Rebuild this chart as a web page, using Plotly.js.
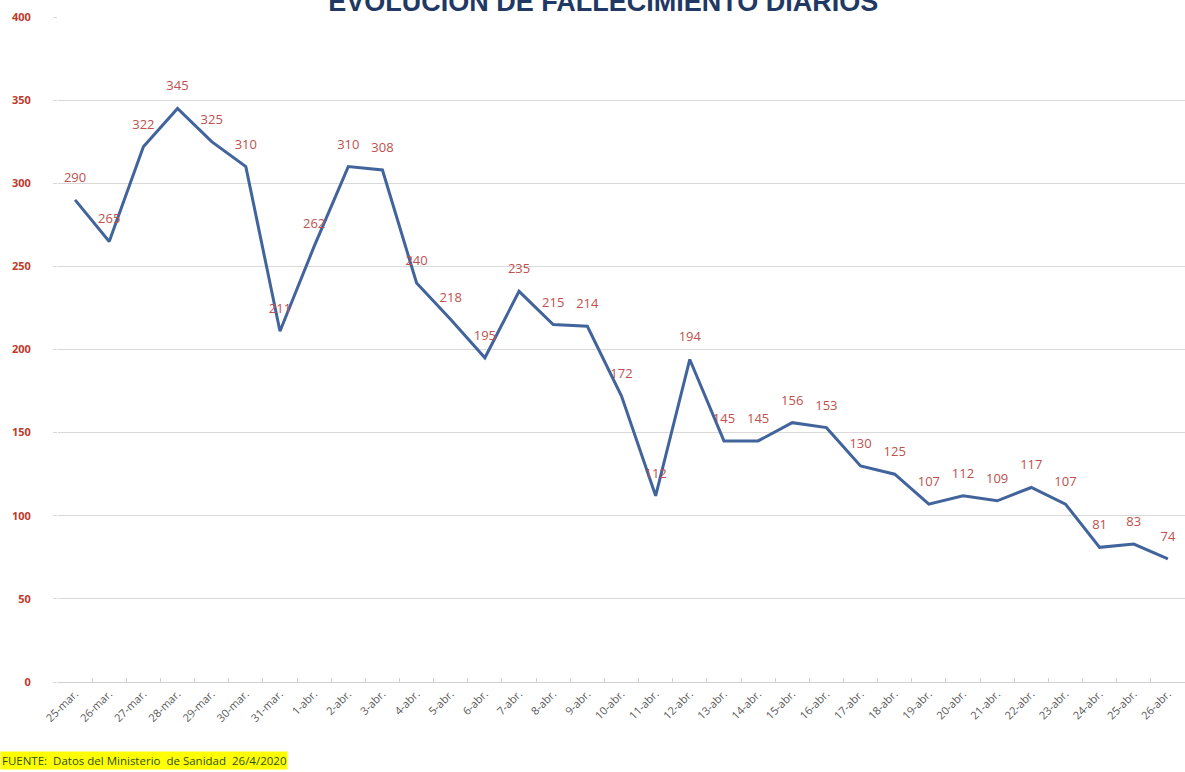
<!DOCTYPE html>
<html>
<head>
<meta charset="utf-8">
<script src="https://cdn.plot.ly/plotly-3.0.1.min.js"></script>
<style>
html,body{margin:0;padding:0;background:#fff;}
#chart{width:1185px;height:772px;}
</style>
</head>
<body>
<div id="chart"></div>
<script>
const fechas = ["25-mar.","26-mar.","27-mar.","28-mar.","29-mar.","30-mar.","31-mar.",
  "1-abr.","2-abr.","3-abr.","4-abr.","5-abr.","6-abr.","7-abr.","8-abr.","9-abr.",
  "10-abr.","11-abr.","12-abr.","13-abr.","14-abr.","15-abr.","16-abr.","17-abr.",
  "18-abr.","19-abr.","20-abr.","21-abr.","22-abr.","23-abr.","24-abr.","25-abr.","26-abr."];
const fallecidos = [290,265,322,345,325,310,211,262,310,308,240,218,195,235,215,214,
  172,112,194,145,145,156,153,130,125,107,112,109,117,107,81,83,74];
const titulo = "EVOLUCIÓN DE FALLECIMIENTO DIARIOS";
const fuente = "FUENTE:  Datos del Ministerio  de Sanidad  26/4/2020";
const yTicks = [0,50,100,150,200,250,300,350,400];

const trace = {
  x: fechas,
  y: fallecidos,
  type: 'scatter',
  mode: 'lines+markers+text',
  line: {color: '#41649C', width: 3},
  marker: {size: 22, color: 'rgba(0,0,0,0)'},
  text: fallecidos.map(String),
  textposition: 'top center',
  textfont: {family: 'Open Sans, sans-serif', size: 13, color: '#C0504D'},
  hoverinfo: 'x+y',
  cliponaxis: false
};

const layout = {
  width: 1185, height: 772,
  margin: {l: 58, r: 0, t: 17, b: 90},
  paper_bgcolor: '#ffffff', plot_bgcolor: '#ffffff',
  showlegend: false,
  title: {
    text: titulo,
    x: 0.509, xanchor: 'center', y: 0.998, yanchor: 'middle',
    font: {family: 'Liberation Sans, Arial, sans-serif', size: 27, color: '#1F3864', weight: 'bold'}
  },
  xaxis: {
    type: 'category',
    range: [-0.5, fechas.length - 0.5],
    tickangle: -45,
    tickfont: {family: 'Open Sans, sans-serif', size: 11, color: '#595959'},
    showgrid: false,
    showline: true, linecolor: '#D0D0D0', linewidth: 1,
    ticks: 'inside', ticklen: 4, tickcolor: '#D0D0D0',
    tickson: 'boundaries',
    zeroline: false, fixedrange: true
  },
  yaxis: {
    range: [0, 400],
    tickvals: yTicks,
    ticktext: yTicks.map(String),
    tickfont: {family: 'Open Sans, sans-serif', size: 11, color: '#C0392B', weight: 'bold'},
    showgrid: true, gridcolor: '#D9D9D9', gridwidth: 1,
    showline: false, zeroline: false,
    ticks: 'outside', ticklen: 4, tickcolor: '#D9D9D9',
    ticklabelstandoff: 20,
    fixedrange: true
  },
  annotations: [{
    text: fuente,
    xref: 'paper', yref: 'paper',
    x: -58/1127, xanchor: 'left',
    y: -78/665, yanchor: 'middle',
    showarrow: false,
    bgcolor: '#FFFF00',
    borderpad: 1,
    font: {family: 'Open Sans, sans-serif', size: 11.5, color: '#2F4F1F'}
  }]
};

Plotly.newPlot('chart', [trace], layout, {displayModeBar: false, staticPlot: true});
</script>
</body>
</html>
